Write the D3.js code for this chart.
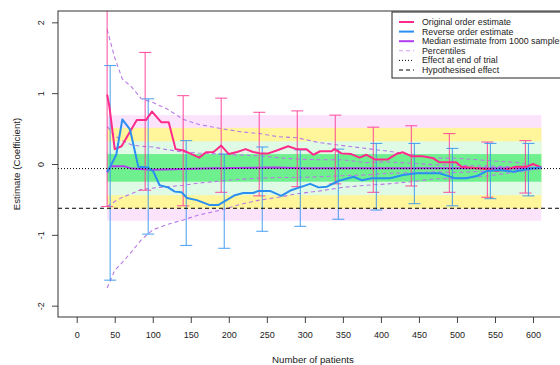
<!DOCTYPE html>
<meta charset="utf-8">
<style>
    body { margin: 0; background: #fff; }
    text { font-family: "Liberation Sans", Arial, sans-serif; fill: #222; }
</style>
<body>
<script src="https://cdn.jsdelivr.net/npm/d3@7"></script>
<script>
    // x ticks and axis labels
    var xTicks = [0, 50, 100, 150, 200, 250, 300, 350, 400, 450, 500, 550, 600]
    var yTicks = [-2, -1, 0, 1, 2]
    var xTitle = "Number of patients"
    var yTitle = "Estimate (Coefficient)"

    // original order estimate
    var origN = [40, 43, 50, 59, 79, 91, 99, 111, 121, 130, 140, 151, 161, 170, 180, 190, 200, 211, 222, 232, 241, 252, 263, 278, 289, 302, 311, 320, 335, 339, 348, 361, 372, 381, 392, 409, 420, 429, 440, 455, 469, 477, 499, 506, 526, 543, 552, 565, 578, 591, 600, 611]
    var origEst = [0.98, 0.81, 0.21, 0.25, 0.62, 0.62, 0.74, 0.59, 0.59, 0.21, 0.19, 0.14, 0.09, 0.165, 0.17, 0.26, 0.14, 0.17, 0.21, 0.17, 0.15, 0.15, 0.19, 0.25, 0.21, 0.21, 0.13, 0.18, 0.18, 0.21, 0.15, 0.14, 0.09, 0.13, 0.065, 0.065, 0.14, 0.165, 0.11, 0.11, 0.08, 0.024, 0.024, -0.04, -0.06, -0.075, -0.1, -0.075, -0.04, -0.04, 0, -0.05]

    // reverse order estimate
    var revN = [40, 44, 52, 60, 70, 81, 94, 101, 109, 120, 129, 138, 145, 158, 175, 186, 197, 208, 219, 232, 239, 254, 269, 282, 293, 307, 318, 329, 344, 364, 375, 388, 412, 429, 447, 477, 497, 512, 526, 539, 556, 574, 587, 600, 611]
    var revEst = [-0.11, -0.04, 0.13, 0.63, 0.49, -0.04, -0.05, -0.11, -0.3, -0.33, -0.39, -0.4, -0.48, -0.51, -0.58, -0.58, -0.51, -0.44, -0.41, -0.41, -0.38, -0.38, -0.45, -0.37, -0.33, -0.28, -0.33, -0.32, -0.24, -0.18, -0.23, -0.2, -0.2, -0.155, -0.13, -0.13, -0.2, -0.2, -0.17, -0.1, -0.085, -0.11, -0.085, -0.06, -0.05]

    // median of 1000 samples
    var medN = [40, 45, 62, 72, 100, 140, 180, 260, 300, 450, 611]
    var medEst = [-0.12, -0.03, -0.03, -0.065, -0.08, -0.07, -0.06, -0.05, -0.06, -0.06, -0.06]

    // percentiles
    var pctN = [40, 50, 60, 72, 85, 100, 120, 140, 160, 190, 215, 240, 265, 290, 320, 350, 380, 410, 440, 470, 500, 540, 580, 611]
    var p975 = [1.9, 1.5, 1.2, 1.09, 0.92, 0.87, 0.77, 0.63, 0.56, 0.5, 0.455, 0.43, 0.385, 0.37, 0.3, 0.26, 0.22, 0.18, 0.13, 0.085, 0.08, 0.05, 0.02, -0.05]
    var p75 = [0.53, 0.4, 0.33, 0.27, 0.25, 0.24, 0.2, 0.17, 0.155, 0.14, 0.127, 0.115, 0.09, 0.07, 0.06, 0.06, 0.02, 0.03, 0.01, -0.01, -0.02, -0.03, -0.04, -0.06]
    var p25 = [-0.6, -0.53, -0.47, -0.42, -0.36, -0.34, -0.32, -0.3, -0.27, -0.24, -0.215, -0.2, -0.19, -0.19, -0.18, -0.165, -0.155, -0.13, -0.125, -0.11, -0.12, -0.1, -0.08, -0.06]
    var p025 = [-1.75, -1.5, -1.39, -1.24, -1.07, -0.93, -0.85, -0.79, -0.72, -0.65, -0.57, -0.51, -0.47, -0.42, -0.38, -0.33, -0.3, -0.28, -0.25, -0.21, -0.2, -0.17, -0.11, -0.06]

    // confidence intervals, original order
    var ciOrigN = [40, 90, 140, 190, 240, 290, 340, 390, 440, 490, 540, 590]
    var ciOrigHi = [3, 1.575, 0.965, 0.93, 0.73, 0.75, 0.69, 0.52, 0.54, 0.43, 0.31, 0.33]
    var ciOrigLo = [-0.6, -0.37, -0.59, -0.4, -0.45, -0.32, -0.28, -0.4, -0.31, -0.4, -0.47, -0.41]

    // confidence intervals, reverse order
    var ciRevN = [44, 94, 144, 194, 244, 294, 344, 394, 444, 494, 544, 594]
    var ciRevHi = [1.39, 0.92, 0.33, 0.14, 0.24, 0.2, 0.21, 0.29, 0.29, 0.22, 0.29, 0.29]
    var ciRevLo = [-1.64, -0.99, -1.15, -1.19, -0.95, -0.88, -0.78, -0.65, -0.56, -0.59, -0.49, -0.45]

    // shaded bands (outer to inner)
    var bandFrom = 40, bandTo = 611
    var bandLo = [-0.8, -0.63, -0.44, -0.25]
    var bandHi = [0.69, 0.51, 0.32, 0.14]
    var bandCol = ["#fbe4fb", "#fff59a", "#dffbe5", "#6ef08e"]

    var endEffect = -0.065
    var hypEffect = -0.625

    var legendLabels = ["Original order estimate", "Reverse order estimate", "Median estimate from 1000 samples", "Percentiles", "Effect at end of trial", "Hypothesised effect"]

    var width = 560, height = 365
    var mLeft = 58, mRight = 568, mTop = 11, mBottom = 317

    var x = d3.scaleLinear().domain([-24.6, 646]).range([mLeft, mRight])
    var y = d3.scaleLinear().domain([-2.16, 2.16]).range([mBottom, mTop])

    var svg = d3.select("body").append("svg")
        .attr("width", width)
        .attr("height", height)

    svg.append("clipPath").attr("id", "plotclip")
        .append("rect")
        .attr("x", mLeft).attr("y", mTop)
        .attr("width", mRight - mLeft).attr("height", mBottom - mTop)

    var plot = svg.append("g").attr("clip-path", "url(#plotclip)")

    // bands
    plot.selectAll("rect.band")
        .data(bandLo)
    .enter().append("rect")
        .attr("class", "band")
        .attr("x", x(bandFrom))
        .attr("width", x(bandTo) - x(bandFrom))
        .attr("y", function(d, i) { return y(bandHi[i]) })
        .attr("height", function(d, i) { return y(bandLo[i]) - y(bandHi[i]) })
        .attr("fill", function(d, i) { return bandCol[i] })

    var line = d3.line()
        .x(function(d) { return x(d[0]) })
        .y(function(d) { return y(d[1]) })

    function pairs(ns, vs) { return ns.map(function(n, i) { return [n, vs[i]] }) }

    // percentiles
    ;[p975, p75, p25, p025].forEach(function(p) {
        plot.append("path")
            .attr("d", line(pairs(pctN, p)))
            .attr("fill", "none")
            .attr("stroke", "#b87ae6")
            .attr("stroke-width", 1.1)
            .attr("stroke-dasharray", "4,3")
    })

    // median
    plot.append("path")
        .attr("d", line(pairs(medN, medEst)))
        .attr("fill", "none")
        .attr("stroke", "#b23cf0")
        .attr("stroke-width", 2)

    // error bars
    function bars(ns, hi, lo, col) {
        var g = plot.append("g")
            .attr("stroke", col)
            .attr("stroke-width", 1.1)
            .attr("stroke-opacity", 0.85)
        ns.forEach(function(n, i) {
            g.append("line").attr("x1", x(n)).attr("x2", x(n)).attr("y1", y(hi[i])).attr("y2", y(lo[i]))
            g.append("line").attr("x1", x(n) - 6).attr("x2", x(n) + 6).attr("y1", y(hi[i])).attr("y2", y(hi[i]))
            g.append("line").attr("x1", x(n) - 6).attr("x2", x(n) + 6).attr("y1", y(lo[i])).attr("y2", y(lo[i]))
        })
    }
    bars(ciOrigN, ciOrigHi, ciOrigLo, "#ff3d97")
    bars(ciRevN, ciRevHi, ciRevLo, "#3a96f0")

    // estimates
    plot.append("path")
        .attr("d", line(pairs(origN, origEst)))
        .attr("fill", "none")
        .attr("stroke", "#ff2a8a")
        .attr("stroke-width", 2)
        .attr("stroke-linejoin", "round")

    plot.append("path")
        .attr("d", line(pairs(revN, revEst)))
        .attr("fill", "none")
        .attr("stroke", "#2a8ff0")
        .attr("stroke-width", 2)
        .attr("stroke-linejoin", "round")

    // reference lines
    plot.append("line")
        .attr("x1", mLeft).attr("x2", mRight)
        .attr("y1", y(endEffect)).attr("y2", y(endEffect))
        .attr("stroke", "#000").attr("stroke-dasharray", "1,2")
    plot.append("line")
        .attr("x1", mLeft).attr("x2", mRight)
        .attr("y1", y(hypEffect)).attr("y2", y(hypEffect))
        .attr("stroke", "#000").attr("stroke-dasharray", "4,3")

    // axes
    var xAxis = svg.append("g")
        .attr("transform", "translate(0," + mBottom + ")")
        .call(d3.axisBottom(x).tickValues(xTicks).tickSize(6).tickPadding(9))
    xAxis.select(".domain").remove()
    xAxis.selectAll("line").attr("stroke", "#444")
    xAxis.selectAll("text").attr("font-size", 9).attr("font-family", null)

    var yAxis = svg.append("g")
        .attr("transform", "translate(" + mLeft + ",0)")
        .call(d3.axisLeft(y).tickValues(yTicks).tickSize(6).tickFormat(function(d) { return String(d) }))
    yAxis.select(".domain").remove()
    yAxis.selectAll("line").attr("stroke", "#444")
    yAxis.selectAll("text")
        .attr("x", null).attr("dy", "0.35em")
        .attr("text-anchor", "middle")
        .attr("transform", "translate(-17,0) rotate(-90)")
        .attr("font-size", 9).attr("font-family", null)

    svg.append("rect")
        .attr("x", mLeft).attr("y", mTop)
        .attr("width", mRight - mLeft).attr("height", mBottom - mTop)
        .attr("fill", "none").attr("stroke", "#333")

    svg.append("text")
        .attr("x", (mLeft + mRight) / 2).attr("y", 363)
        .attr("text-anchor", "middle")
        .attr("font-size", 9.7)
        .text(xTitle)

    svg.append("text")
        .attr("transform", "translate(20," + (mTop + mBottom) / 2 + ") rotate(-90)")
        .attr("text-anchor", "middle")
        .attr("font-size", 9.7)
        .text(yTitle)

    // legend
    var leg = svg.append("g").attr("transform", "translate(392,12)")
    leg.append("rect")
        .attr("width", 200).attr("height", 66)
        .attr("fill", "#fff").attr("stroke", "#222")
    var legStyle = [
        {col: "#ff2a8a", dash: null, w: 2},
        {col: "#2a8ff0", dash: null, w: 2},
        {col: "#b23cf0", dash: null, w: 2},
        {col: "#d49cf5", dash: "4,3", w: 1.1},
        {col: "#000", dash: "1,2", w: 1},
        {col: "#000", dash: "4,3", w: 1}
    ]
    legendLabels.forEach(function(t, i) {
        var yy = 10 + i * 9.6
        leg.append("line")
            .attr("x1", 7).attr("x2", 22).attr("y1", yy).attr("y2", yy)
            .attr("stroke", legStyle[i].col)
            .attr("stroke-width", legStyle[i].w)
            .attr("stroke-dasharray", legStyle[i].dash)
        leg.append("text")
            .attr("x", 30).attr("y", yy).attr("dy", "0.35em")
            .attr("font-size", 8.8)
            .text(t)
    })
</script>
</body>
